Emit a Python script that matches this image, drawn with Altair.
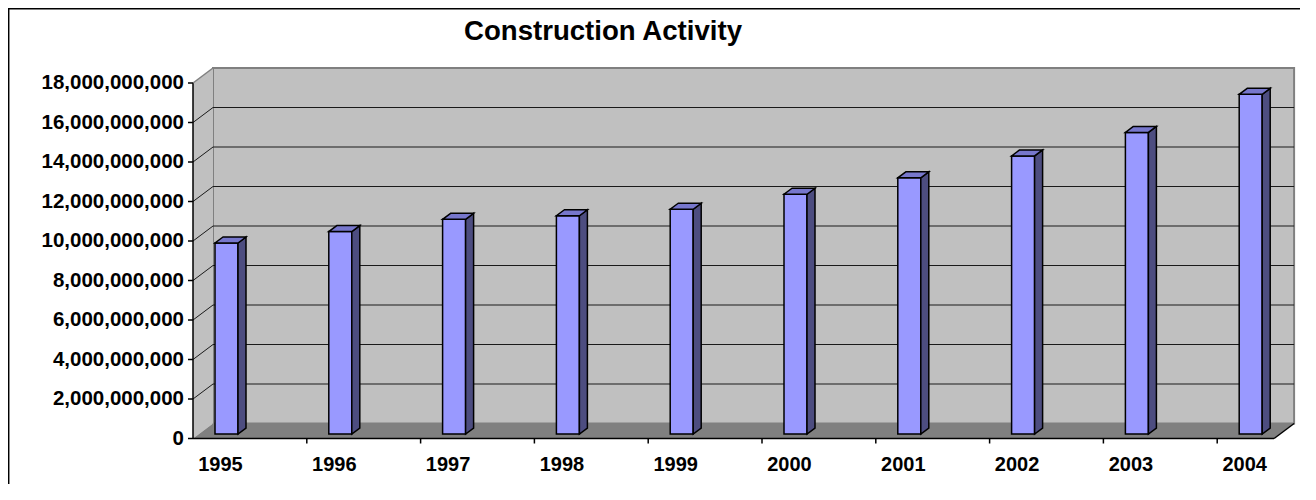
import altair as alt
import pandas as pd

# ---------------- data ----------------
YEARS = [1995, 1996, 1997, 1998, 1999, 2000, 2001, 2002, 2003, 2004]
VALUES = [9.67e9, 10.25e9, 10.87e9, 11.05e9, 11.38e9, 12.14e9, 12.97e9, 14.08e9, 15.27e9, 17.2e9]
Y_TICKS = [0, 2e9, 4e9, 6e9, 8e9, 10e9, 12e9, 14e9, 16e9, 18e9]
TITLE = "Construction Activity"

# ---------------- layout / style ----------------
FONT = "Liberation Sans"
W, H = 1081.1, 355.5            # front plane of the plot, px
STEP = 113.8                    # px per category
X0 = YEARS[0] - 27.5 / STEP     # left edge of the plane, in years
X1 = X0 + W / STEP              # right edge, in years
YMAX = Y_TICKS[-1]
DX = 20 / STEP                  # depth offset (years)
DY = 15 / H * YMAX              # depth offset (value units)
HW = 11.5 / STEP                # half width of the bar front face
BF, BB = 0.3, 0.7               # front / back depth of bars
TICK_SHIFT = X0 + 1 - YEARS[0]  # category separator position after each year
TOTAL_W, TOTAL_H = 1292, 476

WALL = "#C0C0C0"
FLOOR = "#808080"
FRONT = "#9999FF"
SIDE = "#4D4D80"
TOP = "#7777CC"

xs = alt.Scale(domain=[X0, X1], nice=False, zero=False)
ys = alt.Scale(domain=[0, YMAX], nice=False, zero=False)


def X(f, **kw):
    return alt.X(f, scale=xs, axis=None, title=None, **kw)


def Y(f, **kw):
    return alt.Y(f, scale=ys, axis=None, title=None, **kw)


# back wall
back_df = pd.DataFrame({"x": [X0 + DX], "x2": [X1 + DX], "y": [DY], "y2": [YMAX + DY]})
back = alt.Chart(back_df).mark_rect(fill=WALL, stroke=FLOOR, strokeWidth=2).encode(
    x=X("x:Q"), x2="x2:Q", y=Y("y:Q"), y2="y2:Q")

# left side wall
side_df = pd.DataFrame({"x": [X0, X0 + DX], "y": [0, DY], "y2": [YMAX, YMAX + DY]})
side_wall = alt.Chart(side_df).mark_area(fill=WALL).encode(
    x=X("x:Q"), y=Y("y:Q", stack=None), y2="y2:Q")

# floor
floor_df = pd.DataFrame({"y": [0, DY], "x": [X0, X0 + DX], "x2": [X1, X1 + DX]})
floor = alt.Chart(floor_df).mark_area(fill=FLOOR, orient="horizontal").encode(
    y=Y("y:Q"), x=X("x:Q", stack=None), x2="x2:Q")

# gridlines on back wall and side wall
grid_df = pd.DataFrame({"g": Y_TICKS[1:-1]})
grid_back = alt.Chart(grid_df).transform_calculate(
    xa=f"{X0 + DX}", xb=f"{X1 + DX}", yg=f"datum.g + {DY}"
).mark_rule(color="#1a1a1a", strokeWidth=1).encode(x=X("xa:Q"), x2="xb:Q", y=Y("yg:Q"))
grid_side = alt.Chart(grid_df).transform_calculate(
    xa=f"{X0}", xb=f"{X0 + DX}", yb=f"datum.g + {DY}"
).mark_rule(color="#1a1a1a", strokeWidth=1).encode(x=X("xa:Q"), x2="xb:Q", y=Y("g:Q"), y2="yb:Q")

# edges: front axis line, right floor edge, left value axis line, side-wall top edge
edge_df = pd.DataFrame({
    "x": [X0, X1, X0, X0],
    "x2": [X1, X1 + DX, X0, X0 + DX],
    "y": [0, 0, 0, YMAX],
    "y2": [0, DY, YMAX, YMAX + DY],
    "c": ["k", "k", "k", "g"],
})
edges = alt.Chart(edge_df).mark_rule(strokeWidth=1.5).encode(
    x=X("x:Q"), x2="x2:Q", y=Y("y:Q"), y2="y2:Q",
    color=alt.Color("c:N", scale=alt.Scale(domain=["k", "g"], range=["black", FLOOR]), legend=None),
)

# value axis: ticks + labels
yt_df = pd.DataFrame({"v": Y_TICKS})
y_ticks = alt.Chart(yt_df).mark_rule(color="black", strokeWidth=1.5).encode(
    y=Y("v:Q"), x=alt.value(-5), x2=alt.value(0))
y_labels = alt.Chart(yt_df).mark_text(
    font=FONT, fontSize=20.5, fontWeight="bold", color="black", align="right", baseline="middle"
).encode(y=Y("v:Q"), x=alt.value(-9), text=alt.Text("v:Q", format=",.0f"))

# category axis: separator ticks + labels
tick_df = pd.DataFrame({"year": YEARS[:-1]})
x_ticks = alt.Chart(tick_df).transform_calculate(tx=f"datum.year + {TICK_SHIFT}").mark_rule(
    color="black", strokeWidth=1.5).encode(x=X("tx:Q"), y=alt.value(H), y2=alt.value(H + 5))
xl_df = pd.DataFrame({"year": YEARS})
x_labels = alt.Chart(xl_df).mark_text(
    font=FONT, fontSize=20, fontWeight="bold", color="black", align="center", baseline="alphabetic"
).encode(x=X("year:Q"), y=alt.value(H + 32.5), text=alt.Text("year:Q", format="d"))

# bars
bar_df = pd.DataFrame({"year": YEARS, "value": VALUES})
front = alt.Chart(bar_df).transform_calculate(
    xl=f"datum.year + {BF * DX - HW}", xr=f"datum.year + {BF * DX + HW}",
    yt=f"datum.value + {BF * DY}", yb=f"{BF * DY}",
).mark_rect(fill=FRONT, stroke="black", strokeWidth=1.5).encode(
    x=X("xl:Q"), x2="xr:Q", y=Y("yt:Q"), y2="yb:Q")

face_df = pd.DataFrame({
    "year": [y for y in YEARS for _ in (0, 1)],
    "value": [v for v in VALUES for _ in (0, 1)],
    "k": [0, 1] * len(YEARS),
})
side_face = alt.Chart(face_df).transform_calculate(
    d=f"{BF} + datum.k * {BB - BF}"
).transform_calculate(
    sx=f"datum.year + {BF * DX + HW} + datum.k * {(BB - BF) * DX}",
    sy=f"datum.value + datum.d * {DY}",
    sy2=f"datum.d * {DY}",
).mark_area(fill=SIDE, stroke="black", strokeWidth=1.5).encode(
    x=X("sx:Q"), y=Y("sy:Q", stack=None), y2="sy2:Q", detail="year:N")

top_face = alt.Chart(face_df).transform_calculate(
    d=f"{BF} + datum.k * {BB - BF}"
).transform_calculate(
    ty=f"datum.value + datum.d * {DY}",
    tx=f"datum.year + {BF * DX - HW} + datum.k * {(BB - BF) * DX}",
    tx2=f"datum.year + {BF * DX + HW} + datum.k * {(BB - BF) * DX}",
).mark_area(fill=TOP, stroke="black", strokeWidth=1.5, orient="horizontal").encode(
    y=Y("ty:Q"), x=X("tx:Q", stack=None), x2="tx2:Q", detail="year:N")

# title
title = alt.Chart(pd.DataFrame({"t": [TITLE]})).mark_text(
    font=FONT, fontSize=27.6, fontWeight="bold", color="black", align="center", baseline="alphabetic"
).encode(text="t:N", x=alt.value(410), y=alt.value(-43))

# chart area border (top and left visible)
one = pd.DataFrame({"a": [0]})
border_top = alt.Chart(one).mark_rule(color="black", strokeWidth=1.5).encode(
    x=alt.value(-185), x2=alt.value(TOTAL_W), y=alt.value(-74.3))
border_left = alt.Chart(one).mark_rule(color="black", strokeWidth=1.5).encode(
    x=alt.value(-184.3), y=alt.value(-75), y2=alt.value(TOTAL_H))

chart = alt.layer(
    back, side_wall, floor, grid_back, grid_side, edges, y_ticks, y_labels, x_ticks, x_labels,
    front, side_face, top_face, title, border_top, border_left,
).properties(
    width=W, height=H,
    autosize=alt.AutoSizeParams(type="none"),
    padding={"left": 185, "top": 75, "right": TOTAL_W - 185 - W, "bottom": TOTAL_H - 75 - H},
    background="white",
).configure_view(stroke=None)

chart.save("out.html", embed_options={"renderer": "svg", "actions": False})
